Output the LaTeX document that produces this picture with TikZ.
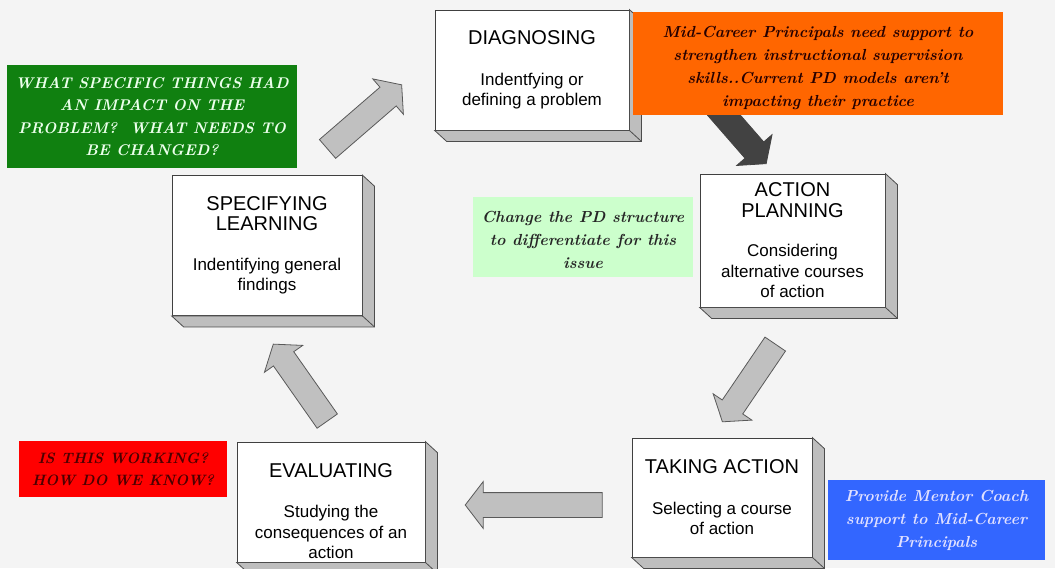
\documentclass[tikz,border=0pt]{standalone}
\usepackage{fontspec}
\setsansfont{Liberation Sans}
\usetikzlibrary{shapes.arrows,positioning}

\definecolor{paper}{RGB}{244,244,244}
\definecolor{sidegray}{RGB}{190,190,190}
\definecolor{arrowgray}{RGB}{192,192,192}
\definecolor{darkarrow}{RGB}{66,66,66}
\definecolor{noteorange}{RGB}{255,102,0}
\definecolor{notegreen}{RGB}{16,128,16}
\definecolor{notemint}{RGB}{204,255,204}
\definecolor{notered}{RGB}{255,0,0}
\definecolor{noteblue}{RGB}{51,102,255}

\newcommand{\stagetitle}[1]{{\fontsize{20}{22}\selectfont #1}}

\begin{document}
\begin{tikzpicture}[x=1pt,y=-1pt,
    stage/.style={draw=black!75,fill=white,line width=0.8pt,align=center,inner sep=0pt,font=\sffamily\fontsize{17}{20.5}\selectfont},
    note/.style={align=center,inner sep=0pt,font=\bfseries\itshape\fontsize{16}{23}\selectfont},
    blockarrow/.style={single arrow,draw=black!65,fill=arrowgray,line width=0.8pt,sloped,allow upside down,
        minimum height=#1,inner xsep=0pt,inner ysep=12pt,single arrow head extend=11pt,single arrow tip angle=105}]
    \useasboundingbox (0,0) rectangle (1055,568);
    \fill[paper] (0,0) rectangle (1055,568);

    % dark arrow, its tail hides under the orange note
    \coordinate (diagOut) at (702,90);
    \coordinate (planIn) at (763,160);
    \path (diagOut) -- node[blockarrow=93pt,fill=darkarrow,draw=darkarrow] (toPlan) {} (planIn);

    % Stages
    \node[stage,minimum width=194pt,minimum height=120pt] (diag) at (532,70)
        {\stagetitle{DIAGNOSING}\\[20pt]Indentfying or\\defining a problem};
    \node[stage,minimum width=185pt,minimum height=133pt] (plan) at (792.5,240.5)
        {\stagetitle{ACTION}\\\stagetitle{PLANNING}\\[19pt]Considering\\alternative courses\\of action};
    \node[stage,minimum width=180pt,minimum height=119pt] (take) at (722,497.5)
        {\stagetitle{TAKING ACTION}\\[20pt]Selecting a course\\of action};
    \node[stage,minimum width=188pt,minimum height=120pt] (eval) at (331,502)
        {\rule{0pt}{32pt}\stagetitle{EVALUATING}\hspace{18pt}\\[20pt]Studying the\\consequences of an\\action};
    \node[stage,minimum width=190pt,minimum height=140pt] (spec) at (267,245.5)
        {\stagetitle{SPECIFYING}\\\stagetitle{LEARNING}\\[19pt]Indentifying general\\findings};

    % 3D sides
    \foreach \s in {diag,plan,take,eval,spec} {
        \filldraw[fill=sidegray,draw=black!70,line width=0.8pt]
            (\s.north east) -- ++(12,11) -- ([shift={(12,11)}]\s.south east)
            -- ([shift={(12,11)}]\s.south west) -- (\s.south west) -- (\s.south east) -- cycle;
        \draw[black!70,line width=0.8pt] (\s.south east) -- ++(12,11);
    }

    % Cycle arrows
    \coordinate (specOut) at (324,152);
    \coordinate (diagIn) at (398,88);
    \coordinate (planOut) at (778,340);
    \coordinate (takeIn) at (725,418);
    \coordinate (takeOut) at (607,505);
    \coordinate (evalIn) at (470,505);
    \coordinate (evalOut) at (330,425);
    \coordinate (specIn) at (276,348);
    \path (specOut) -- node[blockarrow=98pt] (toDiag) {} (diagIn);
    \path (planOut) -- node[blockarrow=94pt] (toTake) {} (takeIn);
    \path (takeOut) -- node[blockarrow=137pt] (toEval) {} (evalIn);
    \path (evalOut) -- node[blockarrow=94pt] (toSpec) {} (specIn);

    % Notes
    \node[note,fill=noteorange,text=black!85!red,minimum width=370pt,minimum height=103pt] (need) at (818,63.5)
        {\rule{0pt}{20pt}Mid-Career Principals need support to\\strengthen instructional supervision\\skills..Current PD models aren’t\\impacting their practice};
    \node[note,fill=notegreen,text=white!92!green,minimum width=290pt,minimum height=103pt,
          font=\bfseries\itshape\fontsize{15.5}{22.5}\selectfont] (ask) at (152,116.5)
        {WHAT SPECIFIC THINGS HAD\\AN IMPACT ON THE\\PROBLEM?\ \ WHAT NEEDS TO\\BE CHANGED?};
    \node[note,fill=notemint,text=black!85,minimum width=220pt,minimum height=80pt] (change) at (583,237)
        {\rule{0pt}{18pt}Change the PD structure\\to differentiate for this\\issue};
    \node[note,fill=notered,text=black!70!red,minimum width=208pt,minimum height=56pt,
          font=\bfseries\itshape\fontsize{15}{22}\selectfont] (check) at (123,469)
        {IS THIS WORKING?\\HOW DO WE KNOW?};
    \node[note,fill=noteblue,text=white!88!blue,minimum width=217pt,minimum height=80pt] (mentor) at (936.5,520)
        {Provide Mentor Coach\\support to Mid-Career\\Principals};
\end{tikzpicture}
\end{document}
